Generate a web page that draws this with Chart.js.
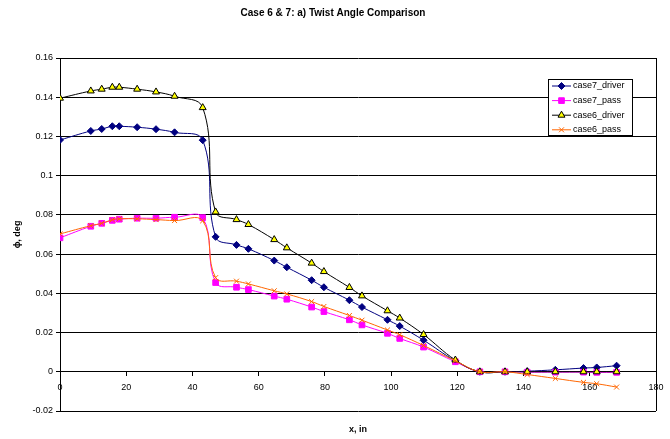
<!DOCTYPE html>
<html>
<head>
<meta charset="utf-8">
<script src="https://cdn.jsdelivr.net/npm/chart.js@4.4.0/dist/chart.umd.min.js"></script>
<style>
  body{ margin:0; background:#fff; }
  canvas{ display:block; }
</style>
</head>
<body>
<canvas id="twistChart" width="670" height="439"></canvas>
<script>
// x positions (in) shared by all four series
const xValues = [0, 9.3, 12.6, 15.8, 17.9, 23.3, 29.0, 34.6, 43.1, 47.0, 53.3, 56.9, 64.7, 68.5, 76.0, 79.7,
                 87.4, 91.2, 98.9, 102.6, 109.8, 119.4, 126.8, 134.4, 141.1, 149.6, 158.1, 162.1, 168.1];

const case7Driver = [0.1182, 0.1228, 0.1238, 0.1252, 0.1252, 0.1247, 0.1237, 0.1221, 0.1181, 0.0688, 0.0647, 0.0627,
                     0.0567, 0.0533, 0.0467, 0.0431, 0.0365, 0.0330, 0.0265, 0.0233, 0.0161, 0.0056, 0, 0,
                     0.0003, 0.0010, 0.0019, 0.0022, 0.0031];
const case7Pass   = [0.0683, 0.0742, 0.0757, 0.0772, 0.0778, 0.0783, 0.0783, 0.0788, 0.0786, 0.0455, 0.0431, 0.0419,
                     0.0386, 0.0370, 0.0330, 0.0307, 0.0265, 0.0239, 0.0196, 0.0170, 0.0126, 0.0051, 0, 0,
                     -0.0002, -0.0002, -0.0002, -0.0003, -0.0003];
const case6Driver = [0.1395, 0.1432, 0.1441, 0.1451, 0.1451, 0.1441, 0.1427, 0.1405, 0.1347, 0.0815, 0.0776, 0.0751,
                     0.0674, 0.0632, 0.0554, 0.0511, 0.0430, 0.0387, 0.0311, 0.0274, 0.0190, 0.0060, 0, 0,
                     0, 0, 0, 0, 0];
const case6Pass   = [0.0703, 0.0745, 0.0757, 0.0775, 0.0780, 0.0780, 0.0776, 0.0771, 0.0770, 0.0480, 0.0462, 0.0448,
                     0.0413, 0.0397, 0.0358, 0.0333, 0.0287, 0.0263, 0.0213, 0.0189, 0.0134, 0.0056, 0, 0,
                     -0.0014, -0.0034, -0.0054, -0.0061, -0.0078];

const seriesNames = ['case7_driver', 'case7_pass', 'case6_driver', 'case6_pass'];

function pts(ys){ return ys.map((y,i)=>({x:xValues[i], y})); }

Chart.defaults.font.family = '"Liberation Sans", Arial, sans-serif';
Chart.defaults.font.size = 9;
Chart.defaults.color = '#000';

// title, axis titles, right border and the boxed legend
const extras = {
  id:'extras',
  afterDraw(chart){
    const ctx = chart.ctx, a = chart.chartArea;
    ctx.save();
    ctx.strokeStyle = '#000'; ctx.lineWidth = 1;
    ctx.beginPath();
    ctx.moveTo(Math.round(a.right)+0.5, a.top); ctx.lineTo(Math.round(a.right)+0.5, a.bottom);
    ctx.stroke();

    ctx.fillStyle = '#000';
    ctx.textAlign = 'center'; ctx.textBaseline = 'middle';
    ctx.font = 'bold 10px "Liberation Sans", Arial, sans-serif';
    ctx.fillText('Case 6 & 7: a) Twist Angle Comparison', 333, 13);
    ctx.font = 'bold 9px "Liberation Sans", Arial, sans-serif';
    ctx.fillText('x, in', (a.left+a.right)/2, 430);
    ctx.save();
    ctx.translate(18, (a.top+a.bottom)/2);
    ctx.rotate(-Math.PI/2);
    ctx.fillText('\u03D5, deg', 0, 0);
    ctx.restore();

    // legend
    ctx.fillStyle = '#fff';
    ctx.fillRect(548.5, 79.5, 84, 56);
    ctx.strokeRect(548.5, 79.5, 84, 56);
    ctx.font = '9px "Liberation Sans", Arial, sans-serif';
    ctx.textAlign = 'left';
    chart.data.datasets.forEach((ds,i)=>{
      const y = 86 + i*14.6;
      ctx.strokeStyle = ds.borderColor; ctx.lineWidth = 1;
      ctx.beginPath(); ctx.moveTo(552, y); ctx.lineTo(571, y); ctx.stroke();
      ctx.fillStyle = ds.pointBackgroundColor;
      ctx.strokeStyle = ds.pointBorderColor;
      Chart.helpers.drawPoint(ctx, {pointStyle:ds.pointStyle, radius:ds.pointRadius, rotation:0, borderWidth:1}, 561.5, y);
      ctx.fillStyle = '#000';
      ctx.fillText(ds.label, 573, y);
    });
    ctx.restore();
  }
};

new Chart(document.getElementById('twistChart'), {
  type:'line',
  data:{
    datasets:[
      { label:seriesNames[0], data:pts(case7Driver), borderColor:'#000080', pointBackgroundColor:'#000080',
        pointBorderColor:'#000080', pointStyle:'rectRot', pointRadius:3.5, order:3 },
      { label:seriesNames[1], data:pts(case7Pass), borderColor:'#FF00FF', pointBackgroundColor:'#FF00FF',
        pointBorderColor:'#FF00FF', pointStyle:'rect', pointRadius:4, order:2 },
      { label:seriesNames[2], data:pts(case6Driver), borderColor:'#000000', pointBackgroundColor:'#FFFF00',
        pointBorderColor:'#000000', pointStyle:'triangle', pointRadius:4, order:1 },
      { label:seriesNames[3], data:pts(case6Pass), borderColor:'#FF6600', pointBackgroundColor:'#FF6600',
        pointBorderColor:'#FF6600', pointStyle:'crossRot', pointRadius:3.5, order:0 }
    ]
  },
  options:{
    responsive:false,
    animation:false,
    layout:{ padding:{ left:0, top:58, right:14, bottom:28 } },
    elements:{
      line:{ borderWidth:1, tension:0.4, fill:false },
      point:{ borderWidth:1, hoverRadius:4 }
    },
    plugins:{ legend:{ display:false }, title:{ display:false }, tooltip:{ enabled:false } },
    scales:{
      x:{
        type:'linear', position:{ y:0 }, min:0, max:180,
        ticks:{ stepSize:20, padding:6, maxRotation:0 },
        grid:{ drawOnChartArea:false, tickLength:4, color:'#000' },
        border:{ color:'#000' }
      },
      y:{
        min:-0.02, max:0.16,
        ticks:{ stepSize:0.02, padding:3, callback:v=>String(parseFloat(v.toFixed(2))) },
        grid:{ color:'#000', tickLength:4 },
        border:{ color:'#000' },
        afterFit:s=>{ s.width = 60; }
      }
    }
  },
  plugins:[extras]
});
</script>
</body>
</html>
